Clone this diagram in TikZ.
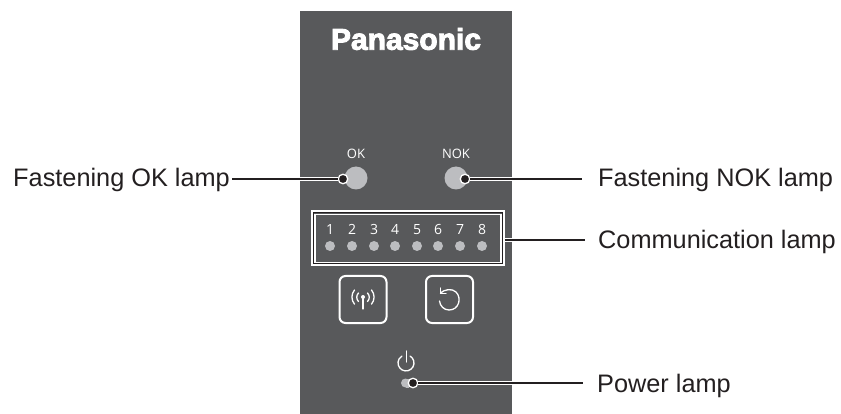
\documentclass[tikz,border=0pt]{standalone}
\usepackage{fontspec}
\setmainfont{Liberation Sans}
\newfontfamily\logofont[FakeBold=3]{Liberation Sans Bold}
\newfontfamily\thinfont{Open Sans}
\definecolor{panelc}{HTML}{58595B}
\definecolor{lampc}{HTML}{BCBDC0}
\definecolor{inkc}{HTML}{231F20}
\tikzset{
  x=1pt,y=-1pt,
  callout/.style={font=\fontsize{25.3}{28}\selectfont,text=inkc,inner sep=0pt,anchor=base},
  leader/.style={draw=white,line width=1pt,double=inkc,double distance=2pt},
  tipdot/.style={circle,fill=inkc,draw=white,line width=1.3pt,minimum size=9.5pt,inner sep=0pt},
  lamp/.style={circle,fill=lampc,minimum size=23pt,inner sep=0pt},
  minilamp/.style={circle,fill=lampc,minimum size=10pt,inner sep=0pt},
  digit/.style={font=\thinfont\fontsize{14}{16}\selectfont,text=white,inner sep=0pt,anchor=base},
  paneltext/.style={font=\thinfont\fontsize{13}{15}\selectfont,text=white,inner sep=0pt,anchor=base},
  btn/.style={draw=white,line width=2pt,rounded corners=6pt,minimum width=47pt,minimum height=47pt,inner sep=0pt},
  icon/.style={draw=white,line width=1.3pt,line cap=round},
}
\begin{document}
\begin{tikzpicture}
\useasboundingbox (0,0) rectangle (841,414);
\fill[panelc] (300,11) rectangle (512,414);
\node[inner sep=0pt,text=white] (logo) at (406,39) {\logofont\fontsize{30}{32}\selectfont Panasonic};
% lamps
\node[paneltext] (oktxt) at (356,159) {OK};
\node[paneltext] (noktxt) at (456,159) {NOK};
\node[lamp] (oklamp) at (356,178) {};
\node[lamp] (noklamp) at (456,178) {};
% communication box
\node[draw=white,line width=1.2pt,minimum width=192pt,minimum height=54pt,inner sep=0pt] (commouter) at (408,238) {};
\node[draw=inkc,line width=1.5pt,minimum width=189pt,minimum height=51pt,inner sep=0pt] (commmid) at (408,238) {};
\node[draw=white,line width=1.2pt,minimum width=186pt,minimum height=47.5pt,inner sep=0pt] (comminner) at (408,238.5) {};
\foreach \n/\cx in {1/330,2/352,3/374,4/395,5/417,6/438,7/460,8/482}{
  \node[digit] (d\n) at (\cx,234.5) {\n};
  \node[minilamp] (m\n) at (\cx,246) {};
}
% buttons
\node[btn] (wifi) at (363,299.5) {};
\node[btn] (reset) at (449.5,299.5) {};
\draw[icon] (363,297) -- (363,309);
\fill[white] (363,297) circle (2pt);
\draw[icon] (358.5,293) arc[start angle=135,end angle=225,radius=6pt];
\draw[icon] (367.5,293) arc[start angle=45,end angle=-45,radius=6pt];
\draw[icon] (354.5,290) arc[start angle=140,end angle=220,radius=11pt];
\draw[icon] (371.5,290) arc[start angle=40,end angle=-40,radius=11pt];
\draw[icon] (440.5,293) .. controls (444,289.5) and (452,288) .. (456,292) .. controls (462,298) and (459,310) .. (449,310) .. controls (444,310) and (440,306) .. (439.5,301);
\draw[icon] (440.5,288) -- (440.5,293.5) -- (446,293.5);
% power
\draw[icon] (410,356) arc[start angle=60,end angle=-240,radius=8pt];
\draw[icon] (406.5,351) -- (406.5,362);
\fill[lampc] (405.5,378.5) rectangle (409,387.5);
\fill[lampc] (405.5,383) circle (4.5pt);
% connectors
\node[callout,anchor=base west] (lpwr) at (597,392) {Power lamp};
\node[callout,anchor=base east] (lok) at (230,187) {Fastening OK lamp};
\node[callout,anchor=base west] (lnok) at (598,187) {Fastening NOK lamp};
\node[callout,anchor=base west] (lcomm) at (598,249) {Communication lamp};
\node[tipdot] (okdot) at (343,179) {};
\node[tipdot] (nokdot) at (465,179) {};
\node[tipdot] (pwrdot) at (413,383) {};
\coordinate (a1) at (232,179);
\coordinate (a2) at (582,179);
\coordinate (a3) at (585,240);
\coordinate (a4) at (583,383);
\draw[leader] (a1) -- (okdot.west);
\draw[leader] (nokdot.east) -- (a2);
\draw[leader] (commouter.east |- a3) -- (a3);
\draw[leader] (pwrdot.east) -- (a4);
\end{tikzpicture}
\end{document}
